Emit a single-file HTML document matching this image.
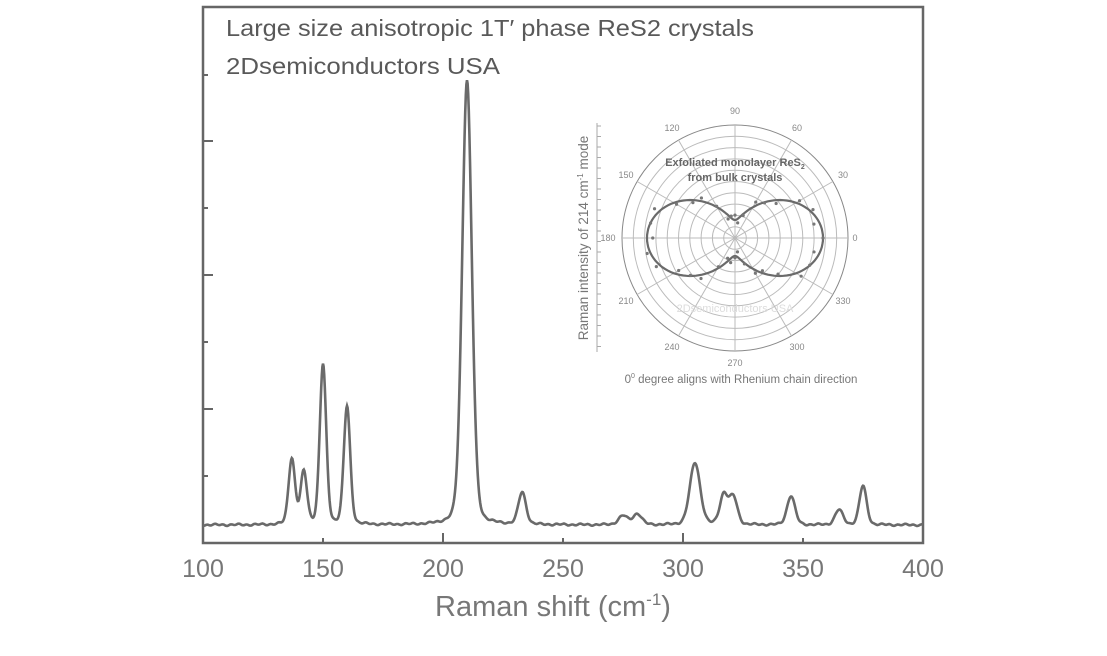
<!DOCTYPE html>
<html><head><meta charset="utf-8"><style>
html,body{margin:0;padding:0;background:#fff;}
body{width:1107px;height:651px;overflow:hidden;}
text{font-family:"Liberation Sans",sans-serif;}
</style></head><body>
<svg id="s" width="1107" height="651" viewBox="0 0 1107 651" xmlns="http://www.w3.org/2000/svg">
<rect x="203" y="7" width="720" height="536" fill="none" stroke="#666" stroke-width="2.5"/>
<g stroke="#666" stroke-width="2">
<line x1="203" y1="75" x2="208" y2="75"/><line x1="203" y1="141" x2="213" y2="141"/>
<line x1="203" y1="208" x2="208" y2="208"/><line x1="203" y1="275" x2="213" y2="275"/>
<line x1="203" y1="342" x2="208" y2="342"/><line x1="203" y1="409" x2="213" y2="409"/>
<line x1="203" y1="476" x2="208" y2="476"/>
<line x1="323" y1="543" x2="323" y2="538"/><line x1="443" y1="543" x2="443" y2="533"/>
<line x1="563" y1="543" x2="563" y2="538"/><line x1="683" y1="543" x2="683" y2="533"/>
<line x1="803" y1="543" x2="803" y2="538"/>
</g>
<g fill="#777" font-size="25" text-anchor="middle">
<text x="203" y="577">100</text><text x="323" y="577">150</text><text x="443" y="577">200</text>
<text x="563" y="577">250</text><text x="683" y="577">300</text><text x="803" y="577">350</text><text x="923" y="577">400</text>
</g>
<text x="553" y="616" fill="#777" font-size="29" text-anchor="middle">Raman shift (cm<tspan font-size="17" dy="-11">-1</tspan><tspan dy="11">)</tspan></text>
<g fill="#595959" font-size="23">
<text x="226" y="36" textLength="528" lengthAdjust="spacingAndGlyphs">Large size anisotropic 1T′ phase ReS2 crystals</text>
<text x="226" y="74" textLength="274" lengthAdjust="spacingAndGlyphs">2Dsemiconductors USA</text>
</g>
<path id="spec" fill="none" stroke="#6a6a6a" stroke-width="2.6"/>
<g id="polar" stroke="#bbb" stroke-width="1" fill="none"></g>
<path id="pc" fill="none" stroke="#6a6a6a" stroke-width="2.2"/>
<g id="dots" fill="#777"></g>
<line x1="597" y1="123" x2="597" y2="352" stroke="#aaa" stroke-width="1"/>
<g id="lt" stroke="#aaa" stroke-width="1"></g>
<text transform="translate(588,238) rotate(-90)" fill="#777" font-size="13.5" text-anchor="middle">Raman intensity of 214 cm<tspan font-size="8" dy="-5">-1</tspan><tspan dy="5"> mode</tspan></text>
<g fill="#888" font-size="9" text-anchor="middle">
<text x="735" y="114">90</text><text x="672" y="131">120</text><text x="797" y="131">60</text>
<text x="626" y="178">150</text><text x="843" y="178">30</text>
<text x="608" y="241">180</text><text x="855" y="241">0</text>
<text x="626" y="304">210</text><text x="843" y="304">330</text>
<text x="672" y="350">240</text><text x="797" y="350">300</text><text x="735" y="366">270</text>
</g>
<text x="735" y="166" fill="#666" font-size="11" font-weight="bold" text-anchor="middle">Exfoliated monolayer ReS<tspan font-size="7" dy="3">2</tspan></text>
<text x="735" y="181" fill="#666" font-size="11" font-weight="bold" text-anchor="middle">from bulk crystals</text>
<text x="735" y="312" fill="#ddd" font-size="11" text-anchor="middle">2Dsemiconductors USA</text>
<text x="741" y="383" fill="#777" font-size="11.5" text-anchor="middle">0<tspan font-size="7" dy="-5">0</tspan><tspan dy="5"> degree aligns with Rhenium chain direction</tspan></text>
</svg>
<script>
var ns="http://www.w3.org/2000/svg";
var peaks=[[137,66,1.6],[142,52,1.6],[150,160,1.6],[160,118,1.6],[210,445,2.4],[233,32,1.9],[275,9,2.3],[281,11,2.2],[305,62,2.6],[317,30,2.0],[321,27,2.0],[345,29,2.0],[365,15,2.0],[375,39,1.8]];
var d="";
for(var x=100;x<=400;x+=0.25){var y=525;
for(var i=0;i<peaks.length;i++){var p=peaks[i],u=(x-p[0])/p[2];y-=p[1]*(0.8*Math.exp(-u*u/1.4)+0.2/(1+u*u));}
y+=Math.sin(x*1.9)*0.6+Math.sin(x*0.7)*0.5;
if(y<7)y=7;
var px=203+(x-100)*2.4;d+=(d?"L":"M")+px.toFixed(1)+" "+y.toFixed(1);}
document.getElementById("spec").setAttribute("d",d);
var cx=735,cy=238,R=113,g=document.getElementById("polar");
for(var k=1;k<=10;k++){var c=document.createElementNS(ns,"circle");c.setAttribute("cx",cx);c.setAttribute("cy",cy);c.setAttribute("r",R*k/10);if(k==10){c.setAttribute("stroke","#888");}g.appendChild(c);}
for(var a=0;a<180;a+=30){var t=a*Math.PI/180,l=document.createElementNS(ns,"line");l.setAttribute("x1",cx-R*Math.cos(t));l.setAttribute("y1",cy+R*Math.sin(t));l.setAttribute("x2",cx+R*Math.cos(t));l.setAttribute("y2",cy-R*Math.sin(t));g.appendChild(l);}
var pd="";
for(var a=0;a<=360;a+=2){var t=a*Math.PI/180,r=18+70*Math.pow(Math.cos(t),2);pd+=(pd?"L":"M")+(cx+r*Math.cos(t)).toFixed(1)+" "+(cy-r*Math.sin(t)).toFixed(1);}
document.getElementById("pc").setAttribute("d",pd);
var dots=document.getElementById("dots");
for(var a=0;a<360;a+=10){var t=a*Math.PI/180,r=18+70*Math.pow(Math.cos(t),2)+(Math.sin(a*1.7)*6);var c=document.createElementNS(ns,"circle");c.setAttribute("cx",cx+r*Math.cos(t));c.setAttribute("cy",cy-r*Math.sin(t));c.setAttribute("r",1.6);dots.appendChild(c);}
var lt=document.getElementById("lt");
for(var y=126;y<352;y+=10.5){var l=document.createElementNS(ns,"line");l.setAttribute("x1",597);l.setAttribute("x2",601);l.setAttribute("y1",y);l.setAttribute("y2",y);lt.appendChild(l);}
</script>
</body></html>
